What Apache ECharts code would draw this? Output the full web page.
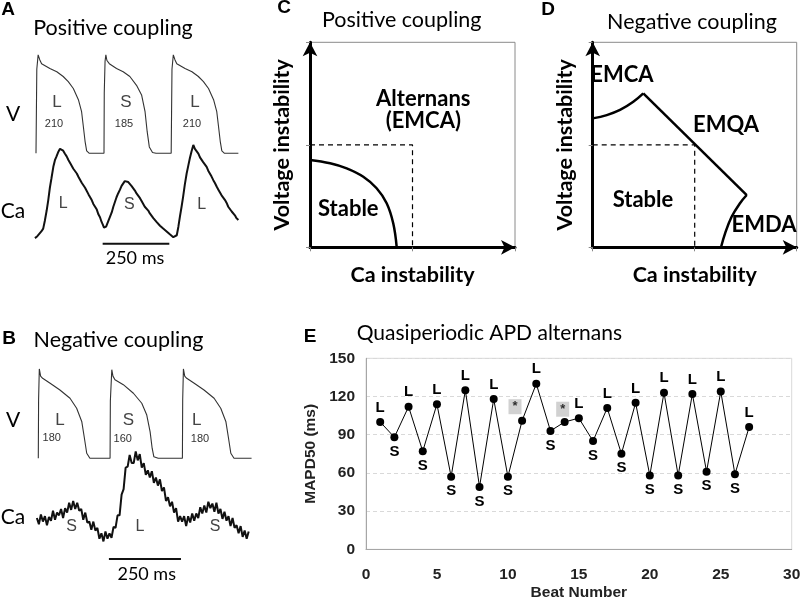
<!DOCTYPE html>
<html><head><meta charset="utf-8">
<script src="https://cdn.jsdelivr.net/npm/echarts@6/dist/echarts.min.js"></script>
<style>html,body{margin:0;padding:0;background:#fff}#c{width:800px;height:598px}</style>
</head><body><div id="c"></div>
<script>
// ---------- Panel A (positive coupling): time in ms, V in mV, Ca normalised ----------
const apA = [[0,-85],[3,20],[8,38],[11,40],[14,32],[21,27],[27,25],[52,21],[78,17],[102,11],[121,4.5],[140,-4],[159,-18],[171,-33],[177,-50],[184,-70],[190,-82],[200,-85],[255,-85],
  [256,-10],[259,30],[262,38],[266,31],[275,27],[302,21],[327,17],[352,11],[377,0],[396,-12],[409,-33],[417,-58],[425,-77],[437,-84],[450,-85],[507,-85],
  [510,20],[515,38],[518,40],[521,32],[528,27],[534,25],[559,21],[585,17],[609,11],[628,4.5],[647,-4],[666,-18],[678,-33],[684,-50],[691,-70],[697,-82],[707,-85],[759,-85]];
const caA = [[-4,0.02],[5,0.04],[12,0.05],[20,0.09],[27,0.12],[33,0.20],[40,0.31],[46,0.42],[52,0.55],[58,0.65],[65,0.77],[71,0.84],[77,0.88],[84,0.93],[90,0.96],[96,0.95],[102,0.94],[108,0.91],[115,0.88],[122,0.84],[128,0.81],[134,0.79],[140,0.75],[147,0.73],[153,0.70],[160,0.66],[166,0.64],[172,0.60],[178,0.58],[184,0.55],[190,0.53],[197,0.48],[203,0.45],[209,0.42],[215,0.38],[221,0.36],[228,0.32],[234,0.27],[240,0.24],[246,0.19],[251,0.16],[255,0.13],[259,0.15],[263,0.14],[267,0.17],[271,0.18],[277,0.24],[284,0.29],[290,0.35],[296,0.40],[302,0.45],[308,0.49],[315,0.53],[321,0.57],[327,0.59],[333,0.62],[340,0.63],[346,0.61],[352,0.60],[358,0.57],[365,0.56],[371,0.52],[377,0.49],[383,0.47],[390,0.44],[396,0.41],[402,0.39],[408,0.35],[415,0.33],[421,0.31],[427,0.28],[433,0.26],[440,0.23],[446,0.22],[452,0.19],[458,0.17],[465,0.15],[471,0.14],[477,0.12],[483,0.10],[490,0.09],[496,0.07],[502,0.06],[508,0.05],[515,0.03],[521,0.04],[528,0.05],[534,0.14],[540,0.25],[546,0.35],[552,0.46],[558,0.58],[565,0.70],[571,0.78],[577,0.86],[583,0.93],[590,1.0],[596,0.96],[602,0.94],[609,0.91],[615,0.87],[621,0.86],[627,0.82],[633,0.80],[640,0.77],[646,0.73],[652,0.70],[658,0.67],[665,0.63],[671,0.60],[678,0.56],[684,0.53],[690,0.51],[696,0.47],[702,0.45],[709,0.42],[715,0.39],[721,0.35],[727,0.34],[734,0.30],[740,0.28],[746,0.26],[752,0.23],[759,0.21]];
const scaleBarA = [[250,-0.04],[500,-0.04]];

// ---------- Panel B (negative coupling) ----------
const apB = [[0,-85],[1,-3],[3.5,40],[8,30],[15,27],[41,20],[75,10.6],[110,-1],[133,-15],[151,-34],[160,-57],[168,-78],[179,-85],[249,-85],
  [250,-5],[255,39],[259,30],[266,25],[295,18],[330,6],[359,-8],[376,-24],[388,-48],[395,-71],[401,-83],[416,-85],[500,-85],
  [501,-3],[503.5,40],[508,30],[515,27],[541,20],[575,10.6],[610,-1],[633,-15],[651,-34],[660,-57],[668,-78],[679,-85],[740,-85]];
const caBTime = [-5,2,9,16,23,30,37,44,51,58,65,72,79,86,93,100,107,114,121,128,135,142,149,156,163,170,177,184,191,198,205,212,219,226,233,240,247,254,261,268,275,282,289,296,303,310,317,324,331,338,345,352,359,366,373,380,387,394,401,408,415,422,429,436,443,450,457,464,471,478,485,492,499,506,513,520,527,534,541,548,555,562,569,576,583,590,597,604,611,618,625,632,639,646,653,660,667,674,681,688,695,702,709,716,723,730];
const caBVal = [0.30,0.23,0.34,0.26,0.32,0.22,0.31,0.27,0.38,0.28,0.36,0.33,0.40,0.30,0.41,0.36,0.47,0.39,0.49,0.40,
  0.47,0.38,0.40,0.28,0.36,0.25,0.26,0.17,0.26,0.16,0.19,0.07,0.13,0.04,0.15,0.07,0.13,0.08,0.20,0.19,
  0.33,0.33,0.56,0.62,0.86,0.87,1.00,0.91,0.91,1.04,0.94,1.01,0.86,0.91,0.78,0.83,0.75,0.82,0.69,0.75,
  0.66,0.73,0.60,0.64,0.49,0.53,0.43,0.48,0.36,0.41,0.26,0.32,0.26,0.32,0.21,0.32,0.25,0.35,0.27,0.35,
  0.30,0.42,0.35,0.44,0.36,0.48,0.41,0.46,0.37,0.47,0.35,0.40,0.29,0.37,0.27,0.32,0.21,0.30,0.19,0.22,
  0.13,0.21,0.09,0.16,0.07,0.15];
const scaleBarB = [[245,-0.156],[495,-0.156]];

// ---------- Panels C and D (schematic phase diagrams, unit square) ----------
const cBoundary = [[0,0.426],[0.098,0.41],[0.179,0.385],[0.26,0.344],[0.325,0.288],[0.374,0.215],[0.406,0.117],[0.423,0]];
const cThreshold = [[0,0.5],[0.5,0.5],[0.5,0]];
const dBoundaryTop = [[0,0.629],[0.069,0.645],[0.134,0.67],[0.199,0.71],[0.248,0.751]];
const dBoundaryMid = [[0.248,0.751],[0.755,0.255]];
const dBoundaryLow = [[0.755,0.255],[0.722,0.215],[0.681,0.149],[0.649,0.068],[0.629,0]];
const dThreshold = [[0,0.5],[0.5,0.5],[0.5,0]];

// ---------- Panel E (quasiperiodic APD alternans) ----------
const eBeats = [1,2,3,4,5,6,7,8,9,10,11,12,13,14,15,16,17,18,19,20,21,22,23,24,25,26,27];
const eMapd  = [100,88,112,77,114,57,125,49,118,57,101,130,93,100,103,85,111,75,115,58,123,58,122,61,124,59,96];
const eMarks = ['L','S','L','S','L','S','L','S','L','S','','L','S','','L','S','L','S','L','S','L','S','L','S','L','S','L'];
const eStars = [[10.5,112],[13.86,110]];

const chart = echarts.init(document.getElementById('c'), null, {renderer:'canvas'});
const TXT = '#222';
const hid = (extra) => Object.assign({type:'value', show:false}, extra);

const cal = 'Lato';
function T(x, y, text, font, fill, align) {
  return {type:'text', x:x, y:y, silent:true, style:{text:text, font:font, fill:fill||'#000',
    align:align||'center', verticalAlign:'middle', textAlign:align||'center', textVerticalAlign:'middle'}};
}

function arrowAxis(pos, name, gi) {
  return {type:'value', gridIndex:gi, min:0, max:1, position:pos, offset:10,
    axisLine:{show:true, symbol:['none','arrow'], symbolSize:[11,14], lineStyle:{color:'#000', width:3}},
    axisTick:{show:false}, axisLabel:{show:false}, splitLine:{show:false},
    name:name, nameLocation:'middle', nameGap:7,
    nameTextStyle:{fontFamily:cal, fontWeight:'bold', fontSize:21.5, color:'#000',
      verticalAlign: pos==='bottom' ? 'top' : 'bottom'}};
}
function tickAxis(pos, gi) {
  return {type:'value', gridIndex:gi, min:0, max:1, interval:0.5, position:pos,
    axisLine:{show:false}, axisTick:{show:true, inside:true, length:4, lineStyle:{color:'#888'}},
    axisLabel:{show:false}, splitLine:{show:false}};
}

const eData = eBeats.map((b,i) => ({value:[b, eMapd[i]], label:{show: eMarks[i] !== '', position: eMarks[i]==='L' ? 'top' : 'bottom', formatter: eMarks[i]}}));

const G = (o) => Object.assign({containLabel:false, outerBoundsMode:'none'}, o);

const option = {
  animation:false,
  grid:[
    G({left:30.67, top:49.3, width:213.3, height:108}),
    G({left:30.67, top:135.5, width:213.3, height:114}),
    G({left:32.54, top:365.4, width:224.8, height:96.4}),
    G({left:32.54, top:446, width:224.8, height:117}),
    G({left:310, top:42.3, width:205, height:205, show:true, borderColor:'#8a8a8a', borderWidth:1}),
    G({left:592.7, top:42.3, width:204, height:205, show:true, borderColor:'#8a8a8a', borderWidth:1}),
    G({left:366, top:358.3, width:425.7, height:191, show:true, borderColor:'#d9d9d9', borderWidth:1})
  ],
  xAxis:[
    hid({gridIndex:0, min:-20, max:780}),
    hid({gridIndex:1, min:-20, max:780}),
    hid({gridIndex:2, min:-20, max:760}),
    hid({gridIndex:3, min:-20, max:760}),
    arrowAxis('bottom','Ca instability',4),
    tickAxis('top',4),
    arrowAxis('bottom','Ca instability',5),
    tickAxis('top',5),
    {type:'value', gridIndex:6, min:0, max:30, interval:5,
      axisLine:{show:true, lineStyle:{color:'#a6a6a6'}}, axisTick:{show:false},
      axisLabel:{margin:17, fontFamily:'Liberation Sans', fontWeight:'bold', fontSize:15.5, color:TXT},
      splitLine:{show:false},
      name:'Beat Number', nameLocation:'middle', nameGap:35,
      nameTextStyle:{fontFamily:'Liberation Sans', fontWeight:'bold', fontSize:15.5, color:TXT}}
  ],
  yAxis:[
    hid({gridIndex:0, min:-90, max:45}),
    hid({gridIndex:1, min:-0.1, max:1.1}),
    hid({gridIndex:2, min:-90, max:45}),
    hid({gridIndex:3, min:-0.2, max:1.1}),
    arrowAxis('left','Voltage instability',4),
    tickAxis('right',4),
    arrowAxis('left','Voltage instability',5),
    tickAxis('right',5),
    {type:'value', gridIndex:6, min:0, max:150, interval:30,
      axisLine:{show:true, lineStyle:{color:'#a6a6a6'}}, axisTick:{show:false},
      axisLabel:{margin:11, fontFamily:'Liberation Sans', fontWeight:'bold', fontSize:15.5, color:TXT},
      splitLine:{show:true, lineStyle:{color:'#d9d9d9', type:[4,3]}},
      name:'MAPD50 (ms)', nameLocation:'middle', nameGap:33, nameRotate:90,
      nameTextStyle:{fontFamily:'Liberation Sans', fontWeight:'bold', fontSize:15.5, color:TXT}}
  ],
  series:[
    {type:'line', xAxisIndex:0, yAxisIndex:0, data:apA, symbol:'none', lineStyle:{color:'#333', width:1.1}},
    {type:'line', xAxisIndex:1, yAxisIndex:1, data:caA, symbol:'none', lineStyle:{color:'#111', width:2}},
    {type:'line', xAxisIndex:1, yAxisIndex:1, data:scaleBarA, symbol:'none', lineStyle:{color:'#111', width:2}},
    {type:'line', xAxisIndex:2, yAxisIndex:2, data:apB, symbol:'none', lineStyle:{color:'#333', width:1.1}},
    {type:'line', xAxisIndex:3, yAxisIndex:3, data:caBTime.map((t,i)=>[t, caBVal[i]]), symbol:'none', lineStyle:{color:'#111', width:2}},
    {type:'line', xAxisIndex:3, yAxisIndex:3, data:scaleBarB, symbol:'none', lineStyle:{color:'#111', width:2}},
    {type:'line', xAxisIndex:4, yAxisIndex:4, data:cBoundary, symbol:'none', smooth:0.4, lineStyle:{color:'#000', width:2.5}},
    {type:'line', xAxisIndex:4, yAxisIndex:4, data:cThreshold, symbol:'none', lineStyle:{color:'#000', width:1.2, type:[5,4]}},
    {type:'line', xAxisIndex:6, yAxisIndex:6, data:dBoundaryTop, symbol:'none', smooth:0.4, lineStyle:{color:'#000', width:2.5}},
    {type:'line', xAxisIndex:6, yAxisIndex:6, data:dBoundaryMid, symbol:'none', lineStyle:{color:'#000', width:2.5}},
    {type:'line', xAxisIndex:6, yAxisIndex:6, data:dBoundaryLow, symbol:'none', smooth:0.4, lineStyle:{color:'#000', width:2.5}},
    {type:'line', xAxisIndex:6, yAxisIndex:6, data:dThreshold, symbol:'none', lineStyle:{color:'#000', width:1.2, type:[5,4]}},
    {type:'scatter', xAxisIndex:8, yAxisIndex:8, data:eStars, symbol:'rect', symbolSize:[13,15],
      itemStyle:{color:'#c6c6c6'}, label:{show:true, formatter:'*', position:'inside', color:'#000', fontSize:13, fontWeight:'bold', fontFamily:'Liberation Sans'}},
    {type:'line', xAxisIndex:8, yAxisIndex:8, data:eData, symbol:'circle', symbolSize:8,
      itemStyle:{color:'#000'}, lineStyle:{color:'#000', width:1},
      label:{distance:3, fontFamily:'Liberation Sans', fontWeight:'bold', fontSize:15, color:'#000'}}
  ],
  graphic:[
    T(8,9.5,'A','bold 19px Liberation Sans'),
    T(9,339,'B','bold 19px Liberation Sans'),
    T(284,8,'C','bold 19px Liberation Sans'),
    T(548,9.5,'D','bold 19px Liberation Sans'),
    T(310,336.5,'E','bold 19px Liberation Sans'),
    T(113,28,'Positive coupling','21.5px '+cal),
    T(118.5,340,'Negative coupling','21.5px '+cal),
    T(401.7,20,'Positive coupling','21.5px '+cal),
    T(692,22,'Negative coupling','21.5px '+cal),
    T(356.7,333,'Quasiperiodic APD alternans','21px '+cal,'#000','left'),
    T(13,114,'V','21px '+cal),
    T(13,211,'Ca','21px '+cal),
    T(13,420,'V','21px '+cal),
    T(13,517,'Ca','21px '+cal),
    T(57,102,'L','17px Liberation Sans','#444'),
    T(126,102,'S','17px Liberation Sans','#444'),
    T(195,102,'L','17px Liberation Sans','#444'),
    T(54,124,'210','11px Liberation Sans','#333'),
    T(124,124,'185','11px Liberation Sans','#333'),
    T(192,124,'210','11px Liberation Sans','#333'),
    T(63.3,203.3,'L','16px Liberation Sans','#444'),
    T(129.3,205,'S','16px Liberation Sans','#444'),
    T(201.7,205,'L','16px Liberation Sans','#444'),
    T(135,258.3,'250 ms','18px '+cal),
    T(60,420,'L','17px Liberation Sans','#444'),
    T(128.3,420,'S','17px Liberation Sans','#444'),
    T(196.7,420,'L','17px Liberation Sans','#444'),
    T(51.7,438.3,'180','11px Liberation Sans','#333'),
    T(122.7,439.3,'160','11px Liberation Sans','#333'),
    T(200,439.3,'180','11px Liberation Sans','#333'),
    T(71.7,526.7,'S','16px Liberation Sans','#444'),
    T(140,526.7,'L','16px Liberation Sans','#444'),
    T(215,526.7,'S','16px Liberation Sans','#444'),
    T(146.7,574,'250 ms','18px '+cal),
    T(423.3,99,'Alternans','bold 22px '+cal),
    T(423.3,121,'(EMCA)','bold 22px '+cal),
    T(348.3,209.3,'Stable','bold 22px '+cal),
    T(622,75,'EMCA','bold 22px '+cal),
    T(726,125,'EMQA','bold 22px '+cal),
    T(643,200,'Stable','bold 22px '+cal),
    T(764,225,'EMDA','bold 22px '+cal)
  ]
};
chart.setOption(option);
</script></body></html>
